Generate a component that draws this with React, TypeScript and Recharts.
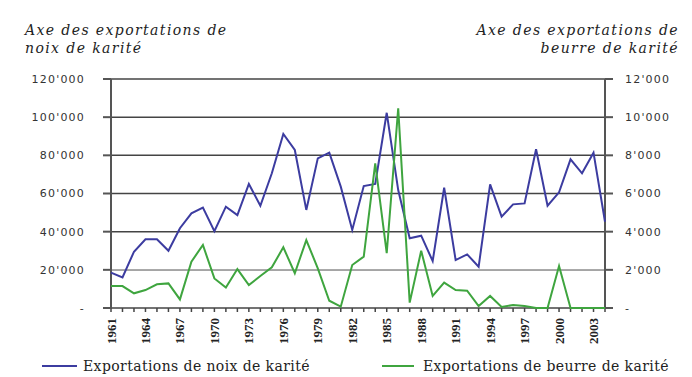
import { LineChart, Line, XAxis, YAxis, CartesianGrid, Legend, ReferenceLine } from "recharts"

const years = [
  1961, 1962, 1963, 1964, 1965, 1966, 1967, 1968, 1969, 1970, 1971,
  1972, 1973, 1974, 1975, 1976, 1977, 1978, 1979, 1980, 1981, 1982,
  1983, 1984, 1985, 1986, 1987, 1988, 1989, 1990, 1991, 1992, 1993,
  1994, 1995, 1996, 1997, 1998, 1999, 2000, 2001, 2002, 2003, 2004,
]

// Exportations de noix de karité (axe gauche)
const noix = [
  18500, 16000, 29500, 36000, 36000, 30000, 41800, 49600, 52600, 40300, 53100,
  48700, 65000, 53600, 70600, 91200, 82800, 51400, 78400, 81400, 63600, 40900,
  63900, 65000, 102300, 61800, 36500, 37900, 24600, 63000, 25100, 28100, 21600,
  64800, 47900, 54300, 54800, 83200, 53600, 60600, 77900, 70600, 81400, 45200,
]

// Exportations de beurre de karité (axe droit)
const beurre = [
  1150, 1150, 770, 940, 1240, 1290, 450, 2430, 3300, 1550, 1070,
  2040, 1200, 1680, 2130, 3180, 1820, 3560, 2080, 380, 70, 2250,
  2690, 7580, 2870, 10460, 280, 3000, 630, 1330, 940, 910, 100,
  630, 50, 160, 100, 0, 0, 2200, 0, 0, 0, 0,
]

const leftTicks = [0, 20000, 40000, 60000, 80000, 100000, 120000]
const rightTicks = [0, 2000, 4000, 6000, 8000, 10000, 12000]

const data = years.map((y, i) => ({ year: y, noix: noix[i], beurre: beurre[i] }))

const BLUE = "#3c3ca0"
const GREEN = "#3fa53f"

const fmt = (v: number) => (v === 0 ? "-" : String(v).replace(/\B(?=(\d{3})+(?!\d))/g, "'"))

const yTickStyle = { fontFamily: "DejaVu Sans", fontSize: 11, fill: "#333", letterSpacing: 1.2 }

const YearTick = (props: any) => {
  const { x, y, index, payload } = props
  if (index % 3 !== 0) return <g />
  return (
    <text
      transform={`translate(${x},${y + 4}) rotate(-90)`}
      textAnchor="end"
      dominantBaseline="central"
      fontFamily="Liberation Serif"
      fontSize={13}
      fontWeight="bold"
      fill="#222"
    >
      {payload.value}
    </text>
  )
}

const LegendContent = () => (
  <div style={{ position: "relative", width: 692, height: 22, fontFamily: "DejaVu Serif", fontSize: 14, letterSpacing: 0.4, color: "#222" }}>
    <div style={{ position: "absolute", left: 42, top: 0, display: "flex", alignItems: "center", height: 22 }}>
      <span style={{ display: "inline-block", width: 35, height: 2, background: BLUE, marginRight: 6 }} />
      Exportations de noix de karité
    </div>
    <div style={{ position: "absolute", left: 382, top: 0, display: "flex", alignItems: "center", height: 22 }}>
      <span style={{ display: "inline-block", width: 32, height: 2, background: GREEN, marginRight: 9 }} />
      Exportations de beurre de karité
    </div>
  </div>
)

const titleStyle = {
  position: "absolute" as const,
  fontFamily: "DejaVu Serif",
  fontStyle: "italic",
  fontSize: 14,
  letterSpacing: 1.4,
  lineHeight: "18px",
  color: "#222",
}

export default function App() {
  return (
    <div style={{ position: "absolute", left: 0, top: 0, width: 692, height: 377, background: "#fff" }}>
      <div style={{ ...titleStyle, left: 25, top: 21 }}>
        Axe des exportations de
        <br />
        noix de karité
      </div>
      <div style={{ ...titleStyle, right: 13, top: 21, textAlign: "right" }}>
        Axe des exportations de
        <br />
        beurre de karité
      </div>
      <LineChart width={692} height={377} data={data} margin={{ top: 79, right: 0, bottom: 0, left: 0 }}>
        <CartesianGrid vertical={false} stroke="#444" strokeWidth={1.5} yAxisId="left" />
        <ReferenceLine yAxisId="left" y={20000} stroke="#aaa" strokeWidth={1.5} />
        <XAxis
          dataKey="year"
          interval={0}
          height={47}
          tick={<YearTick />}
          tickSize={4}
          axisLine={false}
          tickLine={{ stroke: "#444", strokeWidth: 1.5 }}
        />
        <YAxis
          yAxisId="left"
          width={111}
          domain={[0, 120000]}
          ticks={leftTicks}
          tickFormatter={fmt}
          tickSize={8}
          tickMargin={18}
          tick={yTickStyle}
          stroke="#555"
          strokeWidth={2}
        />
        <YAxis
          yAxisId="right"
          orientation="right"
          width={87}
          domain={[0, 12000]}
          ticks={rightTicks}
          tickFormatter={fmt}
          tickSize={8}
          tickMargin={12}
          tick={yTickStyle}
          stroke="#555"
          strokeWidth={2}
        />
        <Legend verticalAlign="bottom" content={<LegendContent />} wrapperStyle={{ height: 22 }} />
        <Line
          yAxisId="left"
          type="linear"
          dataKey="noix"
          stroke={BLUE}
          strokeWidth={2}
          dot={false}
          isAnimationActive={false}
          zIndex={800}
        />
        <Line
          yAxisId="right"
          type="linear"
          dataKey="beurre"
          stroke={GREEN}
          strokeWidth={2}
          dot={false}
          isAnimationActive={false}
          zIndex={800}
        />
      </LineChart>
    </div>
  )
}
